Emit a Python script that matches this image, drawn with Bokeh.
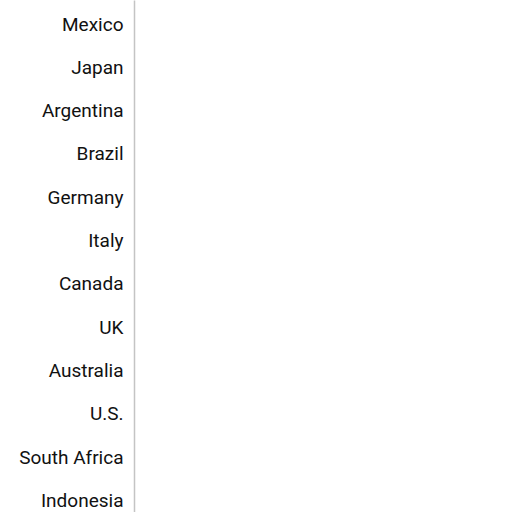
from bokeh.plotting import figure
from bokeh.models import Range1d, FixedTicker
from bokeh.embed import file_html
from bokeh.resources import INLINE

countries = ["Mexico", "Japan", "Argentina", "Brazil", "Germany", "Italy",
             "Canada", "UK", "Australia", "U.S.", "South Africa", "Indonesia"]
positions = list(range(len(countries)))

row_px = 43.3
H = 512
top_offset = 23.5
start = -top_offset / row_px
end = start + H / row_px

p = figure(width=512, height=512, output_backend="svg", toolbar_location=None,
           x_range=Range1d(0, 100), y_range=Range1d(end, start),
           min_border_left=134, min_border_right=0, min_border_top=0, min_border_bottom=0)
p.xaxis.visible = False
p.xgrid.visible = False
p.ygrid.visible = False
p.outline_line_color = None

ax = p.yaxis[0]
ax.ticker = FixedTicker(ticks=positions)
ax.major_label_overrides = {i: c for i, c in zip(positions, countries)}
ax.major_tick_line_color = None
ax.minor_tick_line_color = None
ax.axis_line_color = "#c4c4c4"
ax.axis_line_width = 1.5
ax.major_label_standoff = 5
ax.major_label_text_font = "Roboto"
ax.major_label_text_font_size = "19px"
ax.major_label_text_color = "#111111"

open("out.html", "w").write(file_html(p, INLINE))
